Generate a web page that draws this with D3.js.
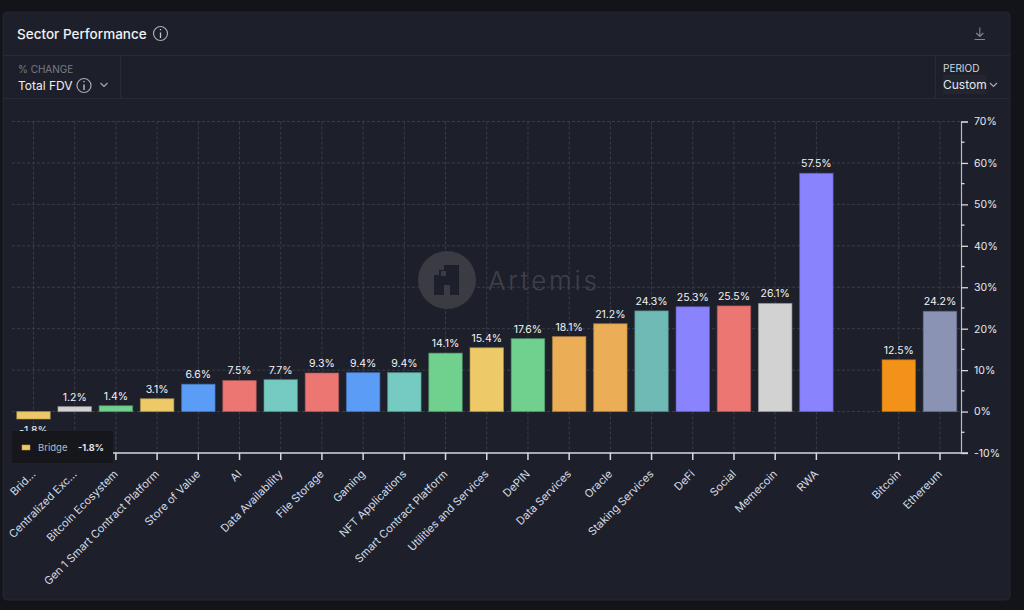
<!DOCTYPE html>
<html>
<head>
<meta charset="utf-8">
<script src="https://cdnjs.cloudflare.com/ajax/libs/d3/7.8.5/d3.min.js"></script>
<style>
html, body { margin: 0; padding: 0; background: #121419; overflow: hidden; }
svg { display: block; font-family: Inter, "Noto Sans", sans-serif; }
</style>
</head>
<body>
<div id="chart"></div>
<script>
// Sectors, with one empty slot before the two majors
const categories = ["Bridge", "Centralized Exchange", "Bitcoin Ecosystem", "Gen 1 Smart Contract Platform",
  "Store of Value", "AI", "Data Availability", "File Storage", "Gaming", "NFT Applications",
  "Smart Contract Platform", "Utilities and Services", "DePIN", "Data Services", "Oracle",
  "Staking Services", "DeFi", "Social", "Memecoin", "RWA", "", "Bitcoin", "Ethereum"];
const tickLabels = ["Brid...", "Centralized Exc...", "Bitcoin Ecosystem", "Gen 1 Smart Contract Platform",
  "Store of Value", "AI", "Data Availability", "File Storage", "Gaming", "NFT Applications",
  "Smart Contract Platform", "Utilities and Services", "DePIN", "Data Services", "Oracle",
  "Staking Services", "DeFi", "Social", "Memecoin", "RWA", "", "Bitcoin", "Ethereum"];
const values = [-1.8, 1.2, 1.4, 3.1, 6.6, 7.5, 7.7, 9.3, 9.4, 9.4, 14.1, 15.4, 17.6, 18.1, 21.2,
  24.3, 25.3, 25.5, 26.1, 57.5, null, 12.5, 24.2];
const yTicks = [-10, 0, 10, 20, 30, 40, 50, 60, 70];
const yMinorTicks = [-5, 5, 15, 25, 35, 45, 55, 65];

const palette = ["#edc967", "#d2d2d2", "#70d18f", "#edc967", "#5b9cf6", "#ec7672", "#75cbc1", "#ec7672",
  "#5b9cf6", "#75cbc1", "#70d18f", "#edc967", "#70d18f", "#ecad57", "#ecad57", "#6fbab5", "#8a83fe",
  "#ec7672", "#d2d2d2", "#8a83fe", "#000000", "#f39218", "#8b93b5"];

const width = 1024, height = 610;
const plot = {left: 12, right: 961, top: 121.5, bottom: 453};

const x = d3.scaleBand().domain(categories).range([12.9, 960.6]).paddingInner(0.187).paddingOuter(0.0935);
const y = d3.scaleLinear().domain([-10, 70]).range([plot.bottom, plot.top]);
const color = d3.scaleOrdinal(categories, palette);
const fmt = d => d.toFixed(1) + "%";
const cx = c => x(c) + x.bandwidth() / 2;

const svg = d3.select("#chart").append("svg").attr("width", width).attr("height", height);

// card
svg.append("rect").attr("x", 3).attr("y", 12).attr("width", 1007).attr("height", 588).attr("rx", 4)
  .attr("fill", "#1d202b").attr("stroke", "#23262f");
svg.append("path").attr("d", "M3,55.5H1010M3,98.5H1010M120.5,55V98M935.5,55V98")
  .attr("stroke", "#282b35").attr("fill", "none");

function infoIcon(cx0, cy0, r) {
  svg.append("circle").attr("cx", cx0).attr("cy", cy0).attr("r", r)
    .attr("fill", "none").attr("stroke", "#a9abb0").attr("stroke-width", 1.2);
  svg.append("path").attr("d", `M${cx0},${cy0 - 1}v${r - 1.5}M${cx0},${cy0 - r + 2.5}v1.3`)
    .attr("stroke", "#c8c9cc").attr("stroke-width", 1.3);
}

svg.append("text").attr("x", 17).attr("y", 39).attr("font-size", 13.5).attr("font-weight", 500)
  .attr("fill", "#f0f1f3").text("Sector Performance");
infoIcon(160.5, 33.5, 7);

svg.append("text").attr("x", 18).attr("y", 73).attr("font-size", 10).attr("fill", "#7a7c83").text("% CHANGE");
svg.append("text").attr("x", 18).attr("y", 90).attr("font-size", 12).attr("fill", "#eeeff1").text("Total FDV");
infoIcon(84, 85.5, 7);
svg.append("path").attr("d", "M100.5,83l3.5,3.5l3.5,-3.5").attr("fill", "none").attr("stroke", "#a9abb0").attr("stroke-width", 1.2);

svg.append("text").attr("x", 943).attr("y", 72).attr("font-size", 10).attr("fill", "#d6d7da").text("PERIOD");
svg.append("rect").attr("x", 943).attr("y", 75).attr("width", 43).attr("height", 19).attr("fill", "#23262f");
svg.append("text").attr("x", 943).attr("y", 89).attr("font-size", 12).attr("fill", "#e6e8ec").text("Custom");
svg.append("path").attr("d", "M990,83l3.5,3.5l3.5,-3.5").attr("fill", "none").attr("stroke", "#a9abb0").attr("stroke-width", 1.2);

// download icon
svg.append("path").attr("d", "M974.5,39.5H985M979.8,27.5V36.5M976.3,33l3.5,3.5l3.5,-3.5")
  .attr("fill", "none").attr("stroke", "#85878d").attr("stroke-width", 1.1);

// grid
const grid = svg.append("g").attr("stroke", "#3a3d47").attr("stroke-dasharray", "3,2");
grid.selectAll("line.h").data(yTicks.filter(d => d > -10)).join("line").attr("class", "h")
  .attr("x1", plot.left).attr("x2", plot.right)
  .attr("y1", d => y(d)).attr("y2", d => y(d));
grid.selectAll("line.v").data(categories.filter(c => c)).join("line").attr("class", "v")
  .attr("x1", cx).attr("x2", cx).attr("y1", plot.top).attr("y2", plot.bottom);

// watermark
const wm = svg.append("g").attr("transform", "translate(447,280)");
wm.append("circle").attr("r", 29).attr("fill", "#3a3b43");
wm.append("path").attr("fill", "#1d202b").attr("fill-rule", "evenodd")
  .attr("d", "M-3,-15H12V15H3V5H-3V15H-13V-5H-8V-10H-3ZM-6,-9V-4H-1V-9Z");
svg.append("text").attr("x", 488).attr("y", 290).attr("font-size", 26).attr("font-weight", 300)
  .attr("letter-spacing", 2.8).attr("fill", "#3f414a").text("Artemis");

// bars
const rows = categories.map((c, i) => ({c, v: values[i]})).filter(d => d.v !== null);
svg.append("g").selectAll("rect").data(rows).join("rect")
  .attr("x", d => x(d.c))
  .attr("y", d => y(Math.max(d.v, 0)))
  .attr("width", x.bandwidth())
  .attr("height", d => Math.abs(y(d.v) - y(0)))
  .attr("fill", d => color(d.c))
  .attr("stroke", d => d3.color(color(d.c)).darker(0.9))
  .attr("stroke-opacity", 0.6);

svg.append("g").selectAll("text").data(rows).join("text")
  .attr("x", d => cx(d.c))
  .attr("y", d => d.v < 0 ? y(d.v) + 15 : y(d.v) - 6)
  .attr("text-anchor", "middle").attr("font-size", 10.5).attr("fill", "#f2f3f5")
  .text(d => fmt(d.v));

// axes
const xAxis = d3.axisBottom(x).tickValues(categories.filter(c => c)).tickSize(7)
  .tickFormat(c => tickLabels[categories.indexOf(c)]);
const gx = svg.append("g").attr("transform", `translate(0,${plot.bottom})`).call(xAxis);
gx.select(".domain").attr("stroke", "#d8d9dc").attr("stroke-width", 1.5).attr("d", `M${plot.left},0H968`);
gx.selectAll(".tick line").attr("stroke", "#d8d9dc").attr("stroke-width", 1.5);
gx.selectAll(".tick text")
  .attr("font-family", "Inter, sans-serif").attr("font-size", 11).attr("fill", "#d5dbe6")
  .attr("text-anchor", "end").attr("y", 0).attr("dy", "0.35em")
  .attr("transform", "translate(0,19) rotate(-45)");

const yAxis = d3.axisRight(y).tickValues(yTicks).tickSize(7).tickPadding(6).tickFormat(d => d + "%");
const gy = svg.append("g").attr("transform", `translate(${plot.right},0)`).call(yAxis);
gy.select(".domain").attr("stroke", "#b9babe").attr("stroke-width", 1.2);
gy.selectAll(".tick line").attr("stroke", "#d8d9dc").attr("stroke-width", 1.3);
gy.selectAll(".tick text").attr("font-family", "Inter, sans-serif").attr("font-size", 10.5).attr("fill", "#e6e8ec");
gy.append("g").selectAll("line").data(yMinorTicks).join("line")
  .attr("x1", 0).attr("x2", 3.5).attr("y1", d => y(d)).attr("y2", d => y(d))
  .attr("stroke", "#d8d9dc").attr("stroke-width", 1.3);

// tooltip on the first bar
const tip = svg.append("g").attr("transform", "translate(12,431)");
tip.append("rect").attr("width", 101).attr("height", 32).attr("fill", "#15171c");
tip.append("rect").attr("x", 10).attr("y", 14).attr("width", 8).attr("height", 5)
  .attr("fill", color(categories[0])).attr("stroke", "#e8902f").attr("stroke-width", 0.5);
tip.append("text").attr("x", 26).attr("y", 20).attr("font-size", 9.5).attr("fill", "#b8bac0").text(categories[0]);
tip.append("text").attr("x", 66).attr("y", 20).attr("font-size", 9).attr("font-weight", 700).attr("fill", "#e8e9ec").text(fmt(values[0]));
</script>
</body>
</html>
